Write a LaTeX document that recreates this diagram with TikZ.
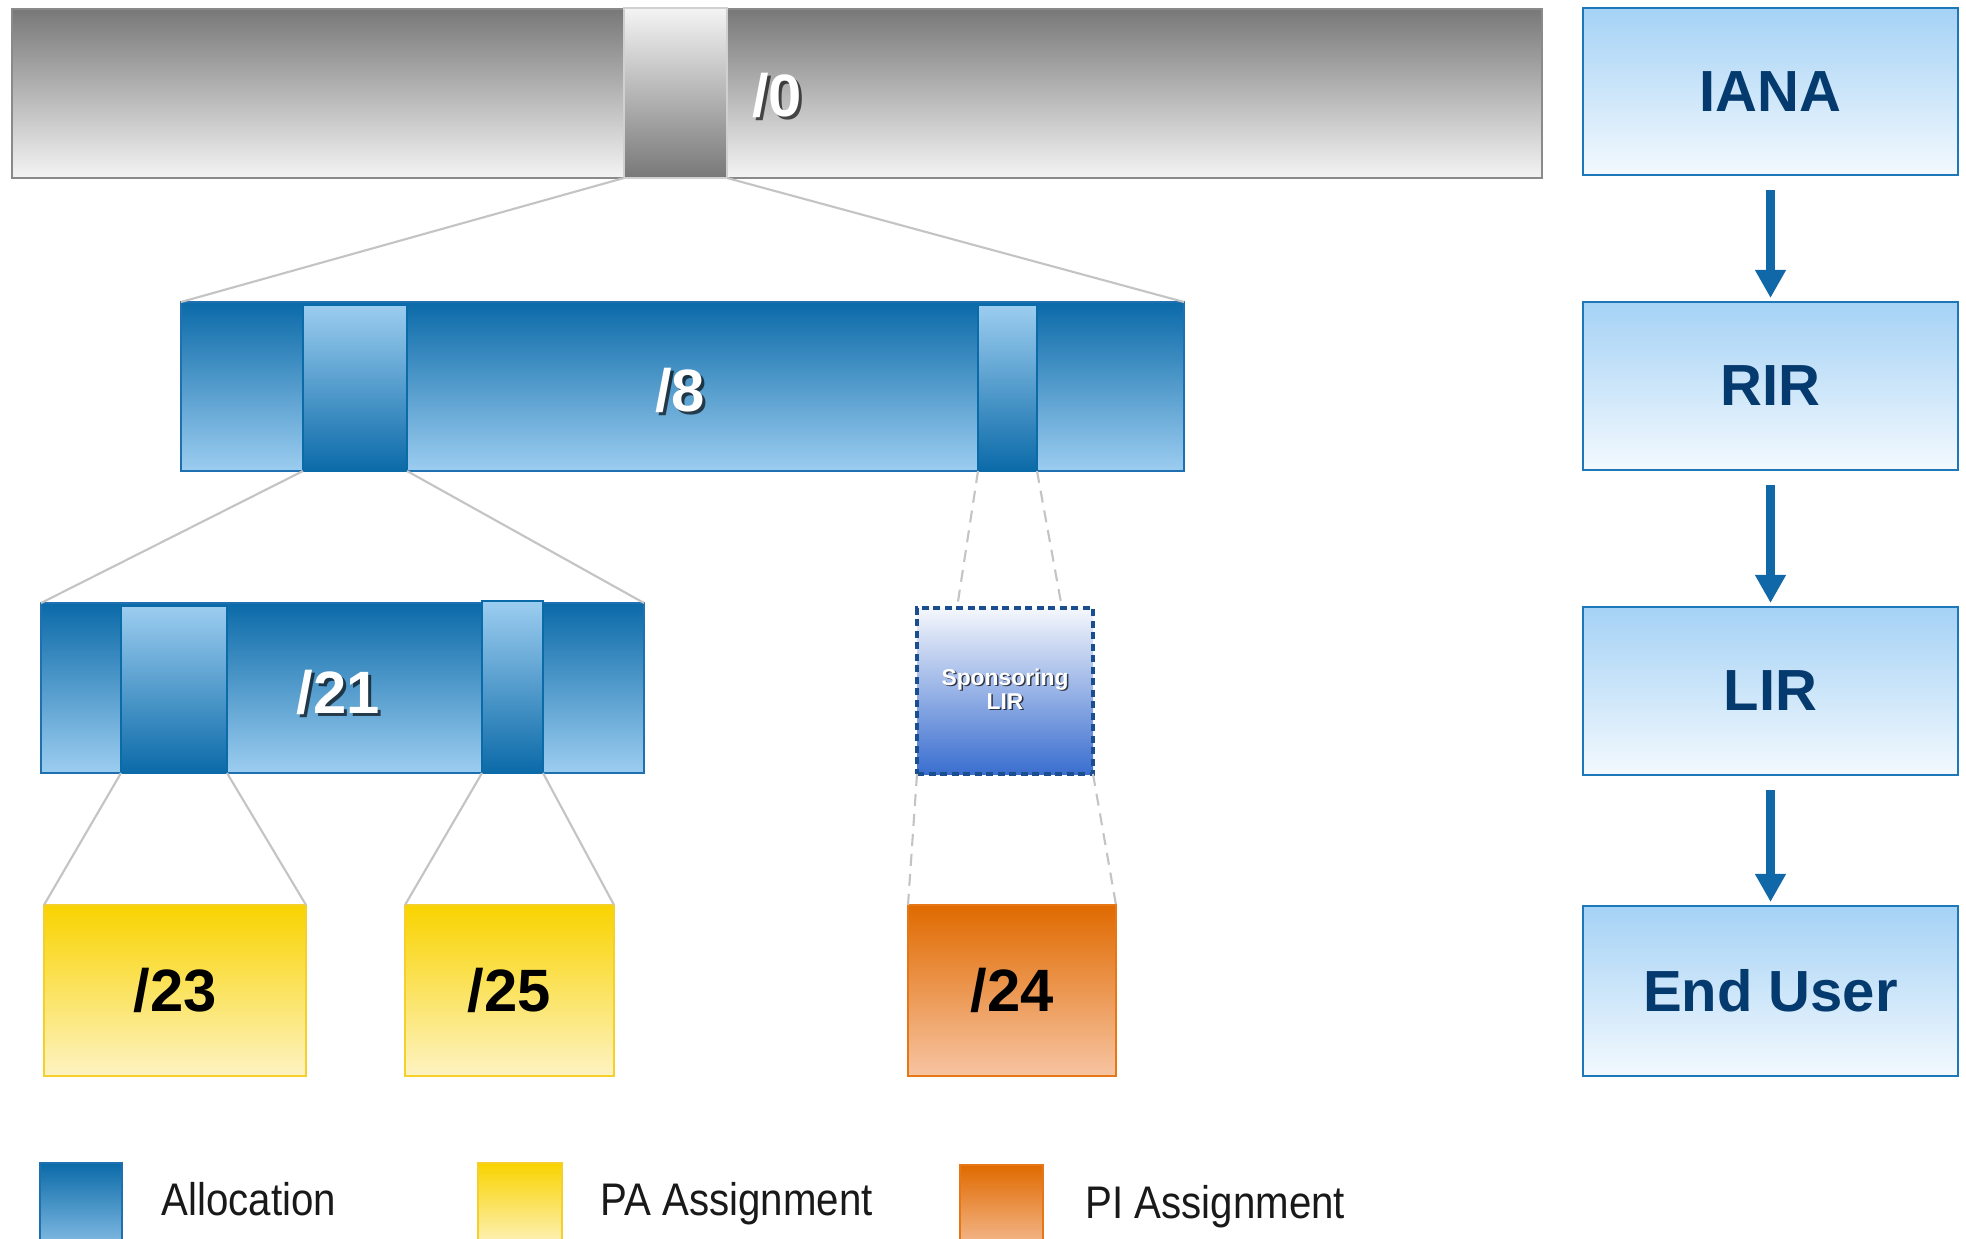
\documentclass[tikz,border=0pt]{standalone}
\usepackage{fontspec}
\setmainfont{Liberation Sans}
\newfontfamily\condfont{Liberation Sans}[FakeStretch=0.88]
\usetikzlibrary{arrows.meta}
\definecolor{grayD}{HTML}{787878}
\definecolor{grayL}{HTML}{F4F4F4}
\definecolor{grayB}{HTML}{8A8A8A}
\definecolor{blueD}{HTML}{0B6AA8}
\definecolor{blueL}{HTML}{9CCDF0}
\definecolor{blueB}{HTML}{1F70B0}
\definecolor{rboxT}{HTML}{A5D2F5}
\definecolor{rboxB}{HTML}{F3F9FE}
\definecolor{rboxD}{HTML}{1C78B9}
\definecolor{navy}{HTML}{053A6E}
\definecolor{yelT}{HTML}{F9D300}
\definecolor{yelB}{HTML}{FDF3C2}
\definecolor{yelD}{HTML}{F5D02A}
\definecolor{orgT}{HTML}{E06A00}
\definecolor{orgB}{HTML}{F7C4A2}
\definecolor{orgD}{HTML}{E67716}
\definecolor{spT}{HTML}{F5F7FC}
\definecolor{spB}{HTML}{3A6ED0}
\definecolor{spD}{HTML}{1A4E8E}
\definecolor{arrC}{HTML}{1168A8}
\definecolor{connC}{HTML}{C4C4C4}
\begin{document}
\begin{tikzpicture}[x=0.01cm,y=-0.01cm,
  box/.style args={#1/#2/#3/#4}{rectangle, anchor=north west, at={(#1,#2)},
    minimum width={(#3-#1)*0.01cm}, minimum height={(#4-#2)*0.01cm},
    inner sep=0pt, outer sep=0pt},
  graybar/.style={draw=grayB, line width=0.7pt, top color=grayD, bottom color=grayL},
  grayseg/.style={draw=grayB!40, line width=0.3pt, top color=grayL, bottom color=grayD},
  bluebar/.style={draw=blueB, line width=0.8pt, top color=blueD, bottom color=blueL},
  blueseg/.style={draw=blueD, line width=0.3pt, top color=blueL, bottom color=blueD},
  rbox/.style={draw=rboxD, line width=0.8pt, top color=rboxT, bottom color=rboxB,
    text=navy, font=\fontsize{16.5}{18}\selectfont\bfseries},
  yelbox/.style={draw=yelD, line width=0.8pt, top color=yelT, bottom color=yelB,
    text=black, font=\fontsize{17}{18}\selectfont\bfseries},
  orgbox/.style={draw=orgD, line width=0.8pt, top color=orgT, bottom color=orgB,
    text=black, font=\fontsize{17}{18}\selectfont\bfseries},
  spbox/.style={draw=spD, line width=1pt, dash pattern=on 0.07cm off 0.045cm,
    top color=spT, bottom color=spB},
  wlabel/.style={text=white, inner sep=0pt, font=\fontsize{17}{18}\selectfont\bfseries},
  slabel/.style={text=black, opacity=0.65, inner sep=0pt, font=\fontsize{17}{18}\selectfont\bfseries},
  spfont/.style={inner sep=0pt, align=center, font=\fontsize{6.5}{5.3}\selectfont\bfseries},
  conn/.style={draw=connC, line width=0.6pt},
  dconn/.style={draw=connC, line width=0.6pt, dash pattern=on 0.12cm off 0.08cm},
  arr/.style={draw=arrC, line width=2.3pt, shorten <=0.15cm, shorten >=0.04cm,
    -{Triangle[width=0.29cm,length=0.28cm]}},
  legtext/.style={anchor=base west, inner sep=0pt, text=black!90,
    font=\fontsize{13}{14}\selectfont\condfont},
]
\useasboundingbox[fill=white] (0,0) rectangle (1966,1239);

\node[box=12/9/1542/178, graybar] (bar0) {};
\node[box=624/8/727/178, grayseg] (seg0) {};
\node[box=181/302/1184/471, bluebar] (bar8) {};
\node[box=303/305/407/471, blueseg] (seg8a) {};
\node[box=978/305/1037/471, blueseg] (seg8b) {};
\node[box=41/603/644/773, bluebar] (bar21) {};
\node[box=121/606/227/773, blueseg] (seg21a) {};
\node[box=482/601/543/773, blueseg] (seg21b) {};
\node[box=917/608/1093/774, spbox] (spons) {};
\node[box=44/905/306/1076, yelbox] (b23) {/23};
\node[box=405/905/614/1076, yelbox] (b25) {/25};
\node[box=908/905/1116/1076, orgbox] (b24) {/24};

\draw[conn] (seg0.south west) -- (bar8.north west);
\draw[conn] (seg0.south east) -- (bar8.north east);
\draw[conn] (seg8a.south west) -- (bar21.north west);
\draw[conn] (seg8a.south east) -- (bar21.north east);
\draw[dconn] (seg8b.south west) -- ([xshift=0.4cm]spons.north west);
\draw[dconn] (seg8b.south east) -- ([xshift=-0.31cm]spons.north east);
\draw[dconn] (spons.south west) -- (b24.north west);
\draw[dconn] (spons.south east) -- (b24.north east);
\draw[conn] (seg21a.south west) -- (b23.north west);
\draw[conn] (seg21a.south east) -- (b23.north east);
\draw[conn] (seg21b.south west) -- (b25.north west);
\draw[conn] (seg21b.south east) -- (b25.north east);

\node[slabel] (s0) at (780,98) {/0};
\node[wlabel] (t0) at (777,95) {/0};
\node[slabel] (s8) at (683,393) {/8};
\node[wlabel] (t8) at (680,390) {/8};
\node[slabel] (s21) at (341,695) {/21};
\node[wlabel] (t21) at (338,692) {/21};
\node[spfont, text=black, opacity=0.7] (ssp) at (1006.5,690.5) {Sponsoring\\LIR};
\node[spfont, text=white] (tsp) at (1005,689) {Sponsoring\\LIR};

\node[box=1583/8/1958/175, rbox] (iana) {IANA};
\node[box=1583/302/1958/470, rbox] (rir) {RIR};
\node[box=1583/607/1958/775, rbox] (lir) {LIR};
\node[box=1583/906/1958/1076, rbox] (enduser) {End User};
\draw[arr] (iana) -- (rir);
\draw[arr] (rir) -- (lir);
\draw[arr] (lir) -- (enduser);

\node[box=40/1163/122/1248, draw=blueB, line width=0.5pt, top color=blueD, bottom color=blueL!85!blueD] (swA) {};
\node[legtext] (lA) at (161,1215) {Allocation};
\node[box=478/1163/562/1248, draw=yelD, line width=0.5pt, top color=yelT, bottom color=yelB] (swPA) {};
\node[legtext] (lPA) at (600,1215) {PA Assignment};
\node[box=960/1165/1043/1248, draw=orgD, line width=0.5pt, top color=orgT, bottom color=orgB!90!orgT] (swPI) {};
\node[legtext] (lPI) at (1085,1218) {PI Assignment};
\end{tikzpicture}
\end{document}
